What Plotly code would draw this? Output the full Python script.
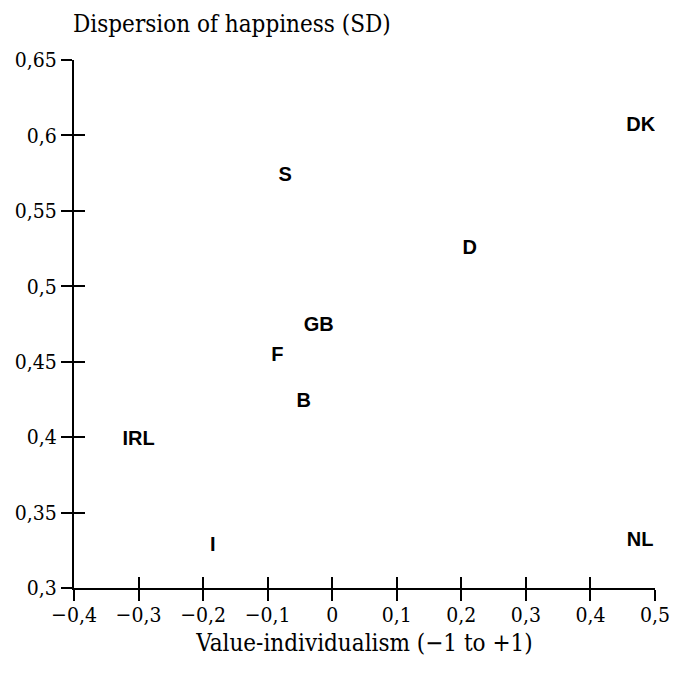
import plotly.graph_objects as go

countries = ["DK", "S", "D", "GB", "F", "B", "IRL", "I", "NL"]
individualism = [0.478, -0.073, 0.213, -0.021, -0.085, -0.044, -0.300, -0.185, 0.477]
happiness_sd = [0.606, 0.573, 0.525, 0.474, 0.454, 0.423, 0.398, 0.328, 0.331]

x_range = [-0.4, 0.5]
y_range = [0.3, 0.65]

serif = "DejaVu Serif Condensed"

fig = go.Figure()
fig.add_trace(go.Scatter(
    x=individualism, y=happiness_sd, mode="text",
    text=[f"<b>{c}</b>" for c in countries],
    textposition="middle center",
    textfont=dict(family="Liberation Sans", size=20, color="black"),
    hoverinfo="skip", showlegend=False,
))
# overlay axes carrying the inner half of the crossing ticks
fig.add_trace(go.Scatter(x=[None], y=[None], xaxis="x2", yaxis="y2",
                         mode="markers", showlegend=False, hoverinfo="skip"))

axis_common = dict(showgrid=False, zeroline=False, showline=True, linecolor="black",
                   linewidth=2, ticks="outside", ticklen=11, tickwidth=1.5,
                   tickcolor="black", tickfont=dict(family=serif, size=21, color="black"))

fig.update_layout(
    width=682, height=677,
    margin=dict(l=74, r=19, t=60, b=89),
    paper_bgcolor="white", plot_bgcolor="white",
    separators=",.",
    xaxis=dict(range=x_range, dtick=0.1, tick0=-0.4, ticklabelstandoff=-4, **axis_common,
               title=dict(text="Value-individualism (−1 to +1)",
                          font=dict(family=serif, size=24, color="black"), standoff=8)),
    yaxis=dict(range=y_range, dtick=0.05, tick0=0.3, **axis_common),
    xaxis2=dict(range=x_range, dtick=0.1, tick0=-0.4, overlaying="x", anchor="y",
                side="bottom", showgrid=False, zeroline=False, showline=False,
                ticks="inside", ticklen=11, tickwidth=1.5, tickcolor="black",
                showticklabels=False),
    yaxis2=dict(range=y_range, dtick=0.05, tick0=0.3, overlaying="y", anchor="x",
                side="left", showgrid=False, zeroline=False, showline=False,
                ticks="inside", ticklen=11, tickwidth=1.5, tickcolor="black",
                showticklabels=False),
    annotations=[dict(text="Dispersion of happiness (SD)", xref="paper", yref="paper",
                      x=0, y=1, xshift=-3, yshift=36, xanchor="left", yanchor="middle",
                      showarrow=False, font=dict(family=serif, size=24, color="black"))],
)

fig.write_html("out.html")
